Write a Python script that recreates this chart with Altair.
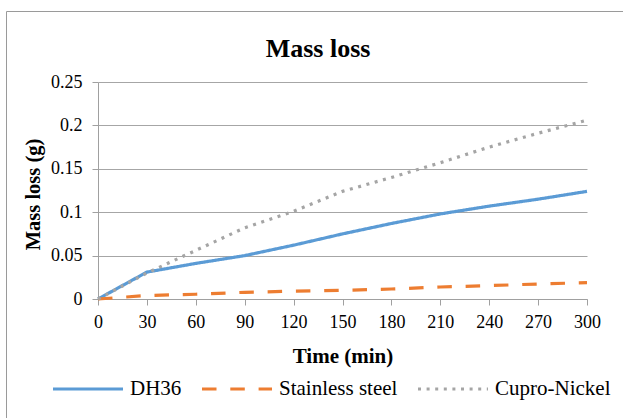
import altair as alt
import pandas as pd

time_min = [0, 30, 60, 90, 120, 150, 180, 210, 240, 270, 300]
dh36 = [0, 0.031, 0.041, 0.050, 0.062, 0.075, 0.087, 0.098, 0.107, 0.115, 0.124]
stainless = [0, 0.004, 0.0055, 0.0077, 0.009, 0.010, 0.0115, 0.0138, 0.0154, 0.0173, 0.0188]
cupro = [0, 0.030, 0.056, 0.082, 0.101, 0.124, 0.140, 0.157, 0.175, 0.191, 0.206]

series_names = ["DH36", "Stainless steel", "Cupro-Nickel"]
series_colors = ["#5B9BD5", "#ED7D31", "#A5A5A5"]
series_dashes = [[1, 0], [14.5, 13.8], [3, 5.6]]

y_ticks = [0, 0.05, 0.1, 0.15, 0.2, 0.25]
x_ticks = time_min
chart_title = "Mass loss"

rows = []
for name, vals in zip(series_names, [dh36, stainless, cupro]):
    for t, v in zip(time_min, vals):
        rows.append({"time": t, "loss": v, "series": name})
df = pd.DataFrame(rows)

FONT = "Liberation Serif"

legend_opts = dict(
    title=None,
    labelFont=FONT,
    labelFontSize=21,
    labelColor="black",
)

lines = alt.Chart(df).mark_line(strokeWidth=3.2).encode(
    x=alt.X(
        "time:Q",
        scale=alt.Scale(domain=[0, 300], nice=False),
        axis=alt.Axis(
            values=x_ticks,
            title="Time (min)",
            grid=False,
            tickSize=6,
            labelPadding=8,
            labelFlush=False,
            titleY=63,
            titleBaseline="alphabetic",
        ),
    ),
    y=alt.Y(
        "loss:Q",
        scale=alt.Scale(domain=[0, 0.25], nice=False),
        axis=alt.Axis(
            values=y_ticks,
            format="~g",
            title="Mass loss (g)",
            grid=True,
            tickSize=6,
            labelPadding=10,
            labelFlush=False,
            titleX=-59,
            titleY=112,
            titleAngle=-90,
            titleAlign="center",
            titleBaseline="alphabetic",
        ),
    ),
    color=alt.Color(
        "series:N",
        scale=alt.Scale(domain=series_names, range=series_colors),
        sort=series_names,
        legend=alt.Legend(**legend_opts),
    ),
    strokeDash=alt.StrokeDash(
        "series:N",
        scale=alt.Scale(domain=series_names, range=series_dashes),
        sort=series_names,
        legend=alt.Legend(**legend_opts),
    ),
)

single = pd.DataFrame({"label": [chart_title]})

frame = alt.Chart(single).mark_rect(
    filled=False, stroke="#9a9a9a", strokeWidth=1
).encode(
    x=alt.value(-91.5), x2=alt.value(700), y=alt.value(-70.5), y2=alt.value(500)
)

title_text = alt.Chart(single).mark_text(
    font=FONT, fontSize=26, fontWeight="bold", color="black",
    align="center", baseline="alphabetic",
).encode(
    text="label:N", x=alt.value(220), y=alt.value(-25.5)
)

chart = (
    alt.layer(frame, title_text, lines)
    .properties(
        width=489,
        height=217,
        autosize=alt.AutoSizeParams(type="none"),
        padding={"left": 98, "top": 82, "right": 36, "bottom": 119},
    )
    .configure(font=FONT)
    .configure_view(stroke=None)
    .configure_axis(
        labelFont=FONT,
        labelFontSize=18,
        labelColor="black",
        titleFont=FONT,
        titleFontSize=21,
        titleFontWeight="bold",
        titleColor="black",
        domainColor="#a0a0a0",
        tickColor="#a0a0a0",
        gridColor="#a6a6a6",
        gridWidth=1,
        domainWidth=1,
    )
    .configure_axisY(titleFontSize=20.5)
    .configure_legend(
        orient="none",
        direction="horizontal",
        legendX=-47,
        legendY=270,
        symbolType="stroke",
        symbolSize=4900,
        symbolStrokeWidth=3.2,
        labelFont=FONT,
        labelFontSize=21,
        labelColor="black",
        labelOffset=5,
        columnPadding=13,
        padding=0,
    )
)

chart.save("out.html", embed_options={"renderer": "svg", "actions": False})
